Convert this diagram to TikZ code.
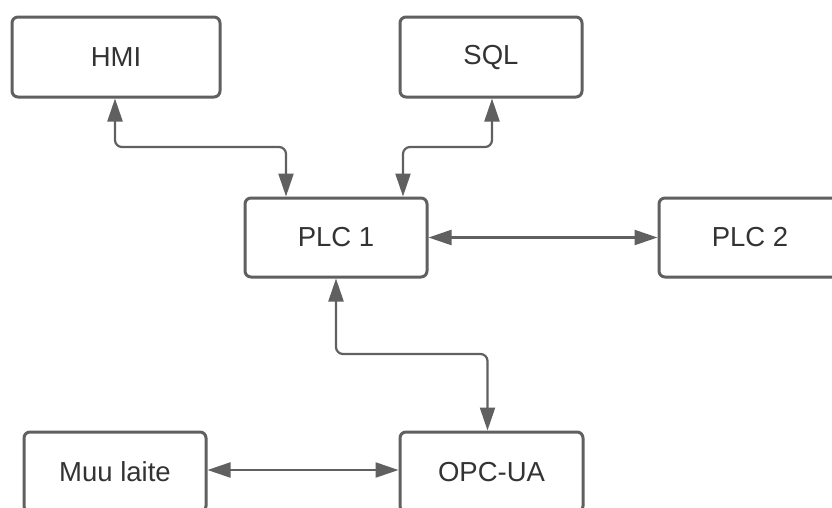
\documentclass[tikz,border=0pt]{standalone}
\usepackage{fontspec}
\setmainfont{Liberation Sans}
\usetikzlibrary{arrows.meta}
\definecolor{linegray}{HTML}{606060}
\definecolor{textgray}{HTML}{333333}
\begin{document}
\begin{tikzpicture}[x=1pt,y=-1pt,
  box/.style={draw=linegray, line width=3pt, rounded corners=6pt, fill=white,
    minimum height=80pt, inner sep=0pt, text=textgray,
    font=\fontsize{27.5}{31}\selectfont},
  conn/.style={draw=linegray, line width=2.2pt, rounded corners=7pt,
    {Triangle[length=23pt,width=15pt]}-{Triangle[length=23pt,width=15pt]}}]
\clip (0,0) rectangle (832,507);
\fill[white] (0,0) rectangle (832,507);
\node[box, minimum width=208pt] (HMI) at (116,57) {HMI};
\node[box, minimum width=182pt] (SQL) at (491,57) {SQL};
\node[box, minimum width=182pt, minimum height=79pt] (PLC1) at (336,237.5) {PLC 1};
\node[box, minimum width=182pt, minimum height=79pt] (PLC2) at (750,237.5) {PLC 2};
\node[box, minimum width=182pt] (MUU) at (115,472) {Muu laite};
\node[box, minimum width=183pt] (OPC) at (491.5,472) {OPC-UA};
\coordinate (ytop) at (0,147);
\coordinate (ybot) at (0,354);
\coordinate (ylow) at (0,470);
\draw[conn] ([xshift=-1pt]HMI.south) -- ([xshift=-1pt]HMI.south |- ytop) -| ([xshift=-50pt]PLC1.north);
\draw[conn] ([xshift=1pt]SQL.south) -- ([xshift=1pt]SQL.south |- ytop) -| ([xshift=67pt]PLC1.north);
\draw[conn] (PLC1.east) -- (PLC2.west);
\draw[conn] (PLC1.south) -- (PLC1.south |- ybot) -| ([xshift=-4pt]OPC.north);
\draw[conn] (MUU.east |- ylow) -- (OPC.west |- ylow);
\end{tikzpicture}
\end{document}
